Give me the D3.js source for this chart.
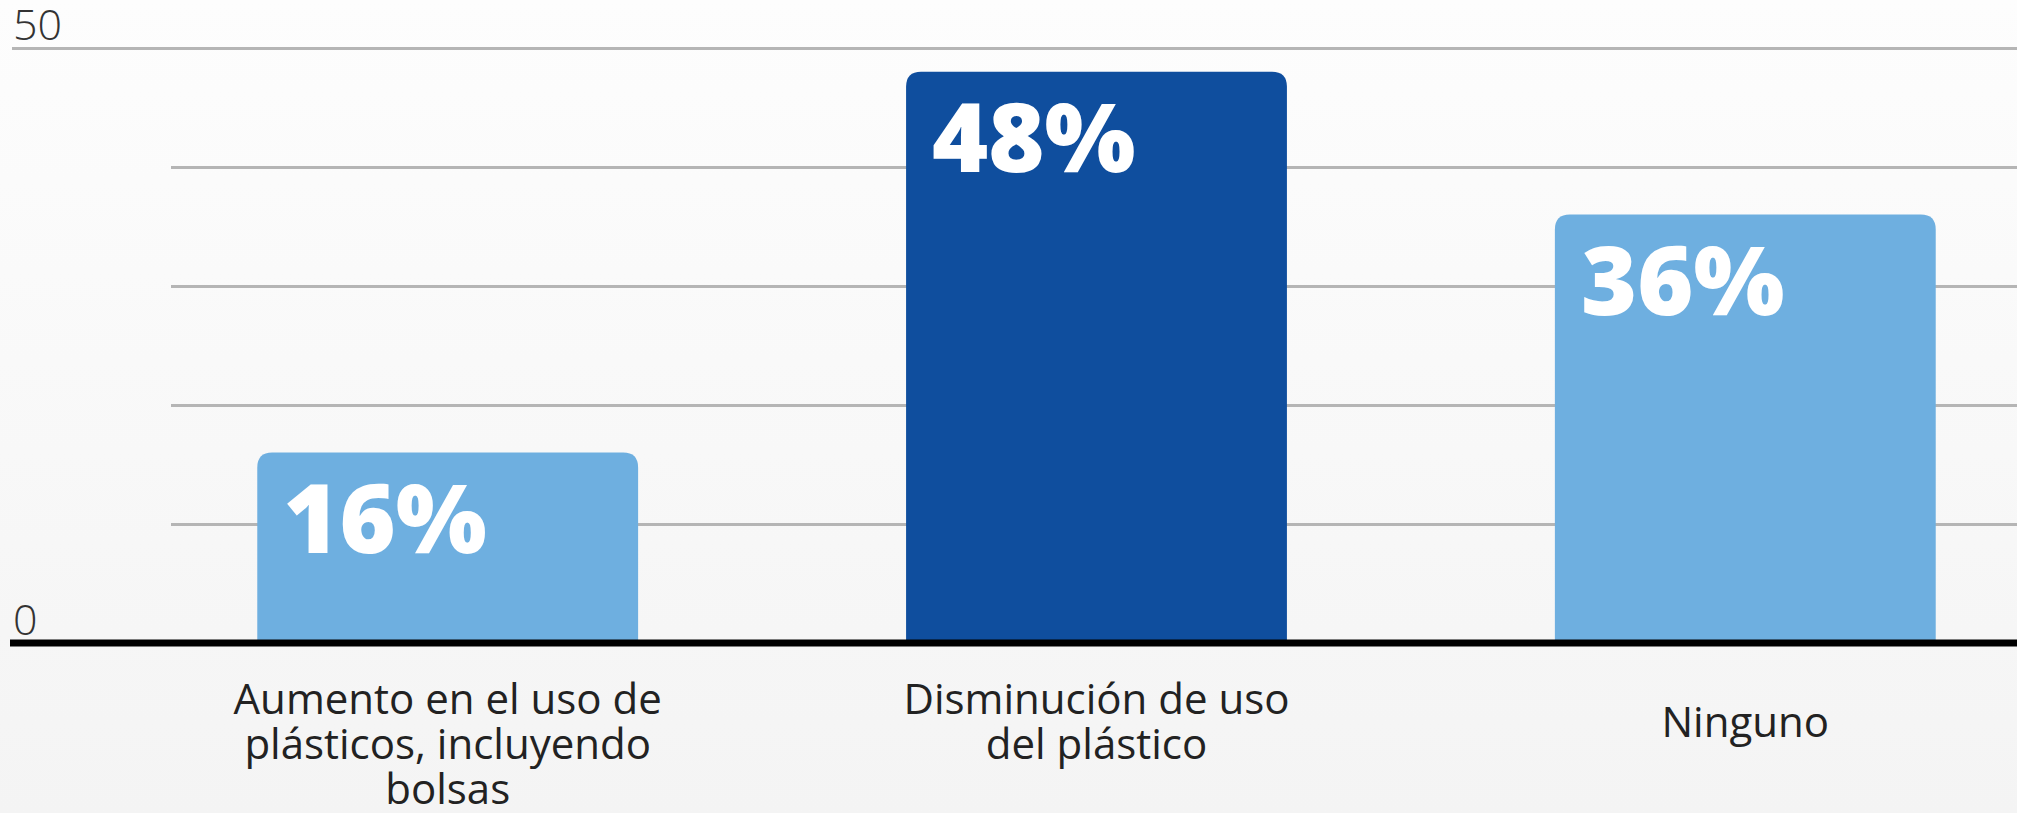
<!DOCTYPE html>
<html>
<head>
<meta charset="utf-8">
<script src="https://cdn.jsdelivr.net/npm/d3@7"></script>
<style>
  html, body { margin: 0; padding: 0; }
  body { width: 2017px; height: 813px; overflow: hidden; }
</style>
</head>
<body>
<div id="chart"></div>
<script>
// chart data
const categories = ["Aumento", "Disminución", "Ninguno"];
const categoryLines = [
    ["Aumento en el uso de", "plásticos, incluyendo", "bolsas"],
    ["Disminución de uso", "del plástico"],
    ["Ninguno"]
];
const values = [16, 48, 36];
const valueLabels = ["16%", "48%", "36%"];
const barColors = ["#6eafe0", "#0f4e9e", "#6eafe0"];
const gridTicks = [10, 20, 30, 40, 50];
const axisLabels = [0, 50];

const width = 2017;
const height = 813;
const baseY = 643;
const topY = 48;

const svg = d3.select("#chart")
    .append("svg")
    .attr("width", width)
    .attr("height", height)

// soft background
const grad = svg.append("defs").append("linearGradient")
    .attr("id", "bg")
    .attr("x1", 0).attr("y1", 0).attr("x2", 0).attr("y2", 1)
grad.append("stop").attr("offset", "0%").attr("stop-color", "#fdfdfd")
grad.append("stop").attr("offset", "100%").attr("stop-color", "#f4f4f4")

svg.append("rect")
    .attr("width", width)
    .attr("height", height)
    .attr("fill", "url(#bg)")

const yScale = d3.scaleLinear()
    .domain([0, 50])
    .range([baseY, topY])

const xScale = d3.scaleBand()
    .domain(categories)
    .range([134, 2059])
    .paddingInner(0.413)
    .paddingOuter(0.19)

// grid lines
const grid = svg.append("g")
    .attr("class", "grid")
    .call(d3.axisRight(yScale)
        .tickValues(gridTicks)
        .tickSize(width)
        .tickFormat(""))

grid.select(".domain").remove()
grid.selectAll(".tick line")
    .attr("stroke", "#b5b5b5")
    .attr("stroke-width", 3)
    .attr("x1", d => d === 50 ? 12 : 171)
    .attr("x2", width)

// axis labels (only ends)
svg.selectAll(".ylabel")
    .data(axisLabels).enter()
    .append("text")
    .attr("class", "ylabel")
    .attr("x", 13)
    .attr("y", d => yScale(d) - 8)
    .attr("font-family", "'Open Sans', sans-serif")
    .attr("font-weight", 300)
    .attr("font-size", 43)
    .attr("fill", "#333")
    .text(d => d)

// bars with rounded top corners
const r = 15;
svg.selectAll(".bar")
    .data(values).enter()
    .append("path")
    .attr("class", "bar")
    .attr("fill", (d, i) => barColors[i])
    .attr("d", (d, i) => {
        const x0 = xScale(categories[i]);
        const x1 = x0 + xScale.bandwidth();
        const y0 = yScale(d);
        const y1 = yScale(0);
        return `M${x0},${y1} V${y0 + r} Q${x0},${y0} ${x0 + r},${y0} H${x1 - r} Q${x1},${y0} ${x1},${y0 + r} V${y1} Z`;
    })

// value labels inside bars
svg.selectAll(".value")
    .data(values).enter()
    .append("text")
    .attr("class", "value")
    .attr("x", (d, i) => xScale(categories[i]) + 26)
    .attr("y", d => yScale(d) + 100)
    .attr("font-family", "'Open Sans', sans-serif")
    .attr("font-weight", 800)
    .attr("font-size", 96)
    .attr("fill", "#fff")
    .text((d, i) => valueLabels[i])

// baseline
svg.append("line")
    .attr("x1", 10)
    .attr("x2", width)
    .attr("y1", yScale(0))
    .attr("y2", yScale(0))
    .attr("stroke", "#000")
    .attr("stroke-width", 7)

// category labels
const lineH = 45;
categoryLines.forEach((lines, i) => {
    const cx = xScale(categories[i]) + xScale.bandwidth() / 2;
    const first = lines.length === 1 ? 714 + lineH / 2 : 714;
    const t = svg.append("text")
        .attr("text-anchor", "middle")
        .attr("font-family", "'Open Sans', sans-serif")
        .attr("font-size", 42)
        .attr("fill", "#222")
    lines.forEach((line, j) => {
        t.append("tspan")
            .attr("x", cx)
            .attr("y", first + j * lineH)
            .text(line)
    })
})
</script>
</body>
</html>
